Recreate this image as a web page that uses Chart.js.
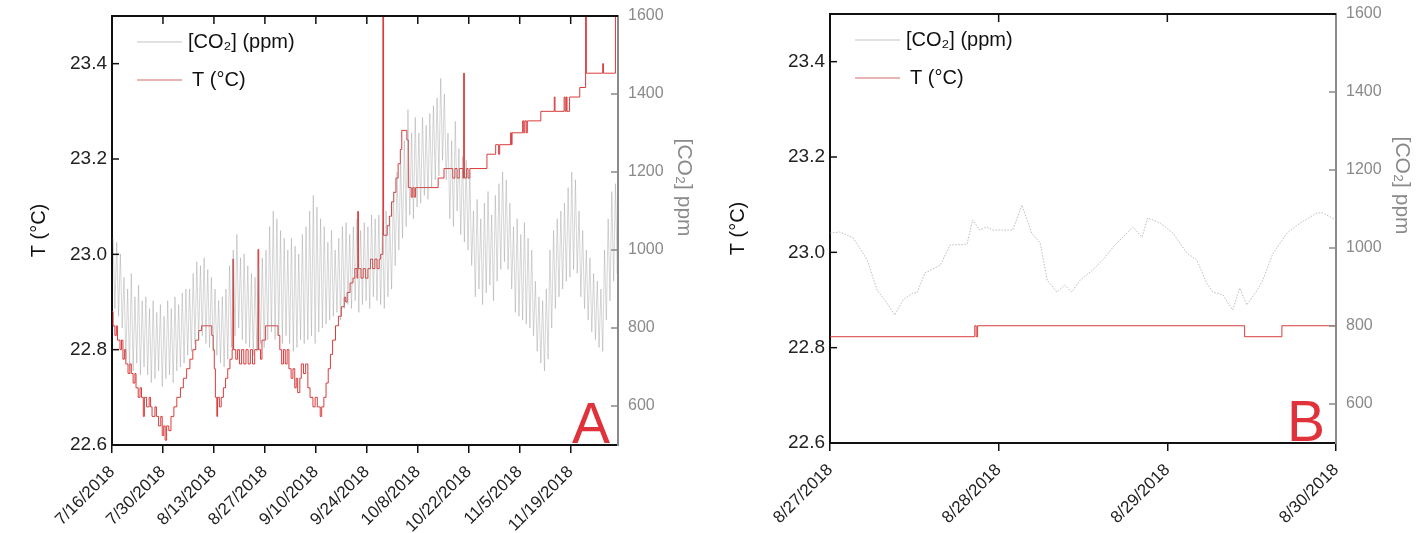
<!DOCTYPE html>
<html>
<head>
<meta charset="utf-8">
<script src="https://cdn.jsdelivr.net/npm/chart.js@4.4.1/dist/chart.umd.min.js"></script>
<style>
  html, body { margin: 0; padding: 0; background: #fff; }
  #wrap { position: relative; width: 1418px; height: 533px; }
  canvas { position: absolute; top: 0; }
</style>
</head>
<body>
<div id="wrap">
  <canvas id="chartA" width="709" height="533" style="left:0"></canvas>
  <canvas id="chartB" width="709" height="533" style="left:709px"></canvas>
</div>
<script>
// Panel A: daily CO2 extremes, one entry per day starting 7/16/2018
const co2HighA = [
  1030, 1020, 990,
  930, 900, 940, 880, 910, 870,
  880, 850, 870, 840, 860, 830, 870, 850, 880, 860, 890, 900,
  900, 940, 970, 960, 980, 950, 930,
  900, 870, 880, 900,
  960, 1000, 1040, 980, 990,
  960, 940, 930, 960, 980, 1000,
  1060, 1100, 1080, 1050, 1030,
  1000, 1030, 1010, 990, 1040, 1060,
  1100, 1140, 1110, 1080,
  1060, 1020, 1050, 1000, 1030, 1060,
  1070, 1040, 1060, 1080, 1050, 1070, 1060, 1090, 1080,
  1090, 1070, 1100, 1080,
  1150, 1200, 1230, 1280,
  1360, 1300, 1340,
  1300, 1340, 1320, 1350, 1370, 1390,
  1440, 1400,
  1300, 1280, 1330, 1260, 1240, 1230, 1200,
  1100, 1130, 1080, 1120, 1150, 1090, 1140, 1170,
  1200, 1180, 1120,
  1060, 1080, 1040, 1070, 1030, 1000,
  920, 880, 870, 900,
  1000, 1050, 1080, 1100, 1120, 1160, 1200, 1180,
  1100, 1050, 1000, 980, 940, 920, 900,
  1000, 1080, 1150, 1170, 1130
];
const co2LowA = [
  850, 830, 800,
  720, 700, 690, 710, 680, 700,
  680, 660, 670, 690, 650, 670, 680, 660, 690, 700, 710, 730,
  740, 760, 770, 780, 760, 750, 740,
  730, 710, 700, 720,
  750, 780, 800, 770, 760,
  750, 730, 740, 760, 750, 770,
  790, 770, 780, 760, 780,
  760, 740, 750, 770, 760, 770,
  780, 760, 790, 800,
  810, 820, 830, 840, 820, 850,
  860, 850, 870, 840, 860, 870, 850, 880, 870,
  860, 850, 880, 900,
  960, 1000, 1030, 1060,
  1090, 1080, 1110,
  1120, 1140, 1130, 1160, 1180, 1190,
  1230, 1180,
  1080, 1060, 1100, 1040, 1020, 1000, 960,
  880, 900, 860, 890, 910, 870, 920, 950,
  970, 950, 900,
  840, 830, 820, 810, 800, 780,
  740, 710, 690, 720,
  800, 850, 880, 900, 920, 930, 950, 940,
  880, 850, 820, 790, 770, 750, 740,
  820, 870, 920, 940, 910
];

// Panel A temperature: day of change and the level it steps to
const tDaysA = [
  0, 0.3, 0.8, 1.2, 1.5, 2.2, 2.6, 3.0, 3.4, 3.8, 4.4, 4.9, 5.3, 5.8, 6.3, 6.6, 7.2, 7.7, 8.1, 8.6,
  8.9, 9.5, 10.2, 10.6, 11.0, 11.8, 12.2, 12.8, 13.4, 13.8, 14.2, 14.6, 15.0, 15.6, 16.2, 17.0, 17.8, 18.8, 19.6, 20.5,
  21.4, 22.2, 23.0, 23.8, 24.6, 27.4, 27.8, 28.1, 28.4, 28.8, 29.0, 29.5, 30.0, 30.6, 31.2, 31.8, 32.4, 33.0, 33.2, 33.4,
  34.0, 34.5, 35.0, 35.6, 36.2, 36.8, 37.4, 38.0, 38.6, 39.2, 40.1, 40.3, 40.8, 41.2, 42.2, 45.6, 46.1, 46.6, 47.1, 47.6,
  48.1, 48.6, 49.2, 49.7, 50.2, 50.6, 51.0, 51.6, 52.0, 52.6, 53.2, 53.8, 54.4, 55.2, 55.8, 56.4, 57.2, 57.6, 58.2, 58.8,
  59.4, 60.0, 60.6, 61.4, 62.2, 63.0, 63.8, 64.2, 64.6, 65.4, 66.2, 66.7, 67.3, 67.5, 67.7, 68.4, 69.0, 69.6, 70.3, 71.0,
  71.6, 72.2, 72.8, 73.4, 73.8, 74.4, 74.6, 75.6, 76.2, 76.8, 77.4, 78.0, 78.6, 79.2, 79.6, 81.0, 81.4, 82.2, 82.6, 83.0,
  83.4, 89.6, 91.2, 93.6, 94.2, 94.8, 95.4, 96.4, 96.6, 96.8, 97.4, 97.8, 98.3, 103.0, 105.4, 106.2, 106.5, 109.5, 109.7, 109.9,
  112.8, 113.1, 113.4, 113.8, 114.1, 117.8, 121.5, 121.7, 124.2, 124.5, 124.8, 125.0, 125.7, 128.5, 130.1, 130.3, 134.8, 135.0, 138.3, 139
];
const tValuesA = [
  22.88, 22.85, 22.83, 22.85, 22.82, 22.80, 22.82, 22.78, 22.80, 22.77, 22.75, 22.77, 22.75, 22.73, 22.75, 22.72, 22.70, 22.72, 22.70, 22.66,
  22.70, 22.68, 22.70, 22.68, 22.66, 22.68, 22.66, 22.64, 22.66, 22.62, 22.64, 22.61, 22.64, 22.63, 22.66, 22.68, 22.70, 22.72, 22.74, 22.76,
  22.78, 22.80, 22.82, 22.84, 22.85, 22.83, 22.80, 22.76, 22.70, 22.66, 22.70, 22.68, 22.70, 22.72, 22.74, 22.76, 22.78, 22.80, 22.99, 22.80,
  22.78, 22.80, 22.77, 22.80, 22.77, 22.80, 22.77, 22.80, 22.77, 22.80, 23.01, 22.80, 22.78, 22.82, 22.85, 22.83, 22.80, 22.77, 22.80, 22.77,
  22.80, 22.76, 22.74, 22.76, 22.72, 22.74, 22.71, 22.74, 22.77, 22.75, 22.77, 22.72, 22.70, 22.68, 22.70, 22.68, 22.66, 22.68, 22.70, 22.73,
  22.76, 22.79, 22.82, 22.85, 22.87, 22.89, 22.91, 22.90, 22.92, 22.94, 22.95, 22.97, 22.95, 23.09, 22.97, 22.95, 22.97, 22.95, 22.97, 22.99,
  22.97, 22.99, 22.97, 22.99, 23.00, 23.60, 23.04, 23.06, 23.08, 23.11, 23.13, 23.16, 23.19, 23.22, 23.26, 23.24, 23.14, 23.12, 23.14, 23.12,
  23.14, 23.16, 23.18, 23.16, 23.18, 23.16, 23.18, 23.16, 23.38, 23.16, 23.18, 23.16, 23.18, 23.21, 23.23, 23.21, 23.23, 23.255, 23.23, 23.255,
  23.28, 23.255, 23.28, 23.255, 23.28, 23.30, 23.33, 23.30, 23.33, 23.30, 23.33, 23.30, 23.33, 23.35, 23.60, 23.38, 23.40, 23.38, 23.60, 23.60
];

// Panel B: 8/27/2018 00:00 to 8/30/2018 00:00, hours from start
const co2HoursB = [
  0, 1.4, 3.3, 5.3, 6.7, 8.1, 9.2, 10.4, 11.8, 12.4, 13.5, 15.7, 17.1, 18.1, 19.5, 20.3, 21.3, 22.3, 23.2, 26.0,
  27.3, 28.7, 29.9, 30.9, 32.3, 33.4, 34.4, 35.6, 37.4, 38.8, 40.3, 43.1, 44.4, 45.2, 47.0, 48.8, 50.8, 52.2, 53.6, 54.5,
  55.9, 57.3, 58.3, 59.3, 60.8, 61.6, 63.0, 65.0, 66.9, 69.3, 70.1, 72
];
const co2ValuesB = [
  1038, 1041, 1026, 969, 892, 859, 828, 867, 885, 885, 936, 956, 1008, 1008, 1010, 1072, 1046, 1054, 1046, 1046,
  1110, 1038, 1013, 918, 887, 905, 887, 918, 944, 969, 1003, 1054, 1028, 1077, 1064, 1038, 987, 969, 910, 887,
  880, 841, 897, 854, 892, 918, 985, 1038, 1064, 1090, 1090, 1072
];
const tHoursB = [0, 20.6, 20.8, 21.0, 59.0, 64.3, 72];
const tValuesB = [22.823, 22.846, 22.823, 22.846, 22.823, 22.846, 22.846];

// Axis ticks
const dayTicksA = [0, 14, 28, 42, 56, 70, 84, 98, 112, 126];
const hourTicksB = [0, 24, 48, 72];
const tempTicks = [22.6, 22.8, 23.0, 23.2, 23.4];
const co2Ticks = [600, 800, 1000, 1200, 1400, 1600];

const FONT = '"Liberation Sans", Arial, sans-serif';
Chart.defaults.font.family = FONT;

function dateLabel(startUtc, unitMs) {
  return v => {
    const d = new Date(startUtc + v * unitMs);
    return (d.getUTCMonth() + 1) + '/' + d.getUTCDate() + '/' + d.getUTCFullYear();
  };
}

// Daily extremes become a zigzag: peak then trough within each day
const co2PointsA = [];
co2HighA.forEach((hi, d) => {
  co2PointsA.push({ x: d + 0.3, y: hi });
  co2PointsA.push({ x: d + 0.8, y: co2LowA[d] });
});
const tPointsA = tDaysA.map((d, i) => ({ x: d, y: tValuesA[i] }));
const co2PointsB = co2HoursB.map((h, i) => ({ x: h, y: co2ValuesB[i] }));
const tPointsB = tHoursB.map((h, i) => ({ x: h, y: tValuesB[i] }));

function tickMark(ctx, x1, y1, x2, y2) {
  ctx.beginPath();
  ctx.moveTo(x1, y1);
  ctx.lineTo(x2, y2);
  ctx.stroke();
}

// frame extras: top line, inward ticks, legend, right-hand title and panel letter
const panelDecor = {
  id: 'panelDecor',
  afterDraw(chart, args, opts) {
    const { ctx, chartArea: a, scales } = chart;
    ctx.save();
    ctx.strokeStyle = '#111';
    ctx.lineWidth = 2;
    tickMark(ctx, a.left, a.top, a.right, a.top);
    ctx.lineWidth = 1.5;
    scales.x.ticks.forEach(t => {
      const px = scales.x.getPixelForValue(t.value);
      if (px <= a.left + 1 || px >= a.right - 1) return;
      tickMark(ctx, px, a.top, px, a.top + 8);
    });
    scales.y.ticks.forEach(t => {
      const py = scales.y.getPixelForValue(t.value);
      tickMark(ctx, a.left, py, a.left + 7, py);
    });
    ctx.strokeStyle = '#8a8a8a';
    scales.y2.ticks.forEach(t => {
      const py = scales.y2.getPixelForValue(t.value);
      if (py <= a.top + 1) return;
      tickMark(ctx, a.right, py, a.right - 7, py);
    });

    ctx.font = '20px ' + FONT;
    ctx.textBaseline = 'middle';
    chart.data.datasets.forEach((ds, i) => {
      const y = a.top + 26 + i * 38;
      ctx.strokeStyle = ds.legendColor;
      ctx.lineWidth = 1.2;
      tickMark(ctx, a.left + 25, y, a.left + 70, y);
      ctx.fillStyle = '#111';
      ctx.fillText(ds.label, a.left + 76 + (i ? 4 : 0), y);
    });

    ctx.save();
    ctx.translate(a.right + opts.titleOffset, a.top + (a.bottom - a.top) * 0.4);
    ctx.rotate(Math.PI / 2);
    ctx.font = '21px ' + FONT;
    ctx.fillStyle = '#8a8a8a';
    ctx.textAlign = 'center';
    ctx.fillText('[CO₂] ppm', 0, 0);
    ctx.restore();

    ctx.font = '57px ' + FONT;
    ctx.fillStyle = '#e0323a';
    ctx.textAlign = 'right';
    ctx.textBaseline = 'alphabetic';
    ctx.fillText(opts.letter, a.right - opts.letterInset, a.bottom - 2);
    ctx.restore();
  }
};

function buildPanel(id, cfg) {
  const bottomTicks = { drawOnChartArea: false, drawTicks: true, tickLength: 8, color: '#111', lineWidth: 1.5 };
  // vertical axes get a fixed width and no extra label overhang, so the plot box stays put
  const fixWidth = w => s => { s.width = w; s.paddingTop = 0; s.paddingBottom = 0; };
  return new Chart(document.getElementById(id), {
    type: 'line',
    data: {
      datasets: [
        {
          label: '[CO₂] (ppm)',
          data: cfg.co2,
          yAxisID: 'y2',
          borderColor: cfg.co2Color,
          borderWidth: cfg.co2Width,
          borderDash: cfg.co2Dash,
          legendColor: '#c4c4c4'
        },
        {
          label: 'T (°C)',
          data: cfg.temp,
          yAxisID: 'y',
          stepped: true,
          borderColor: 'rgba(214, 40, 40, 0.9)',
          borderWidth: 1,
          legendColor: '#d46a6a'
        }
      ]
    },
    options: {
      responsive: false,
      animation: false,
      devicePixelRatio: 1,
      elements: { point: { radius: 0 }, line: { tension: 0 } },
      layout: { padding: { top: cfg.top, left: 0, right: 0, bottom: 0 } },
      plugins: {
        legend: { display: false },
        tooltip: { enabled: false },
        panelDecor: { letter: cfg.letter, letterInset: cfg.letterInset, titleOffset: cfg.rightTitleOffset }
      },
      scales: {
        x: {
          type: 'linear',
          min: 0,
          max: cfg.xMax,
          afterBuildTicks: s => { s.ticks = cfg.xTicks.map(v => ({ value: v })); },
          afterFit: s => { s.height = cfg.bottomHeight; },
          ticks: {
            autoSkip: false, maxRotation: 45, minRotation: 45, padding: 9,
            color: '#222', font: { size: 17 }, callback: cfg.xLabel
          },
          grid: bottomTicks,
          border: { color: '#111', width: 2 }
        },
        y: {
          position: 'left',
          min: 22.6,
          max: 23.5,
          afterBuildTicks: s => { s.ticks = tempTicks.map(v => ({ value: v })); },
          afterFit: fixWidth(cfg.leftWidth),
          ticks: { color: '#222', font: { size: 19 }, padding: 5, callback: v => v.toFixed(1) },
          grid: { drawOnChartArea: false, drawTicks: false },
          border: { color: '#111', width: 2 },
          title: {
            display: true, text: 'T (°C)', color: '#111', font: { size: 20 },
            padding: { top: cfg.leftTitlePad, bottom: 0 }
          }
        },
        y2: {
          position: 'right',
          min: 500,
          max: 1600,
          afterBuildTicks: s => { s.ticks = co2Ticks.map(v => ({ value: v })); },
          afterFit: fixWidth(cfg.rightWidth),
          ticks: { color: '#8a8a8a', font: { size: 16 }, padding: 10, callback: v => String(v) },
          grid: { drawOnChartArea: false, drawTicks: false },
          border: { color: '#8a8a8a', width: 2 }
        }
      }
    },
    plugins: [panelDecor]
  });
}

buildPanel('chartA', {
  co2: co2PointsA, temp: tPointsA,
  co2Color: 'rgba(140, 140, 140, 0.45)', co2Width: 0.8, co2Dash: [],
  xMax: 139, xTicks: dayTicksA, xLabel: dateLabel(Date.UTC(2018, 6, 16), 86400000),
  top: 16, bottomHeight: 88, leftWidth: 112, rightWidth: 91,
  leftTitlePad: 27, rightTitleOffset: 66, letter: 'A', letterInset: 8
});

buildPanel('chartB', {
  co2: co2PointsB, temp: tPointsB,
  co2Color: 'rgba(150, 150, 150, 0.8)', co2Width: 0.8, co2Dash: [1.5, 1.5],
  xMax: 72, xTicks: hourTicksB, xLabel: dateLabel(Date.UTC(2018, 7, 27), 3600000),
  top: 14, bottomHeight: 90, leftWidth: 121, rightWidth: 82,
  leftTitlePad: 17, rightTitleOffset: 66, letter: 'B', letterInset: 11
});
</script>
</body>
</html>
